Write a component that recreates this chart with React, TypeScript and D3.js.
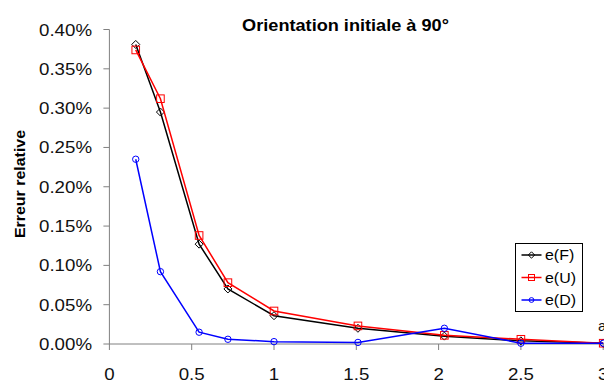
import React from "react";
import * as d3 from "d3";

const xValues = [0.16, 0.31, 0.545, 0.72, 1.0, 1.51, 2.035, 2.5, 3.0];
const eF = [0.00381, 0.00295, 0.00127, 0.0007, 0.00036, 0.0002, 0.0001, 0.00004, 0.00001];
const eU = [0.00374, 0.00312, 0.00138, 0.00078, 0.00042, 0.00023, 0.00011, 0.00006, 0.00001];
const eD = [0.00235, 0.00092, 0.00015, 0.00006, 0.00003, 0.00002, 0.0002, 0.00001, 0.00001];
const yTicks = [0, 0.0005, 0.001, 0.0015, 0.002, 0.0025, 0.003, 0.0035, 0.004];
const xTicks = [0, 0.5, 1, 1.5, 2, 2.5, 3];
const seriesNames = ["e(F)", "e(U)", "e(D)"];
const title = "Orientation initiale à 90°";
const yTitle = "Erreur relative";
const xTitle = "a";

const FONT = "'Liberation Sans', Arial, sans-serif";
const SX = 1.1;

type Marker = "diamond" | "square" | "circle";

function MarkerShape({ kind, cx, cy, color, s }: { kind: Marker; cx: number; cy: number; color: string; s: number }) {
  if (kind === "diamond") {
    const p = `M${cx},${cy - s} L${cx + s},${cy} L${cx},${cy + s} L${cx - s},${cy} Z`;
    return <path d={p} fill="none" stroke={color} strokeWidth={1} />;
  }
  if (kind === "square") {
    return <rect x={cx - s} y={cy - s} width={2 * s} height={2 * s} fill="none" stroke={color} strokeWidth={1} />;
  }
  return <circle cx={cx} cy={cy} r={s} fill="none" stroke={color} strokeWidth={1} />;
}

export default function App() {
  const W = 604;
  const H = 381;
  const x = d3.scaleLinear().domain([0, 3]).range([109.4, 603.2]);
  const y = d3.scaleLinear().domain([0, 0.004]).range([344, 29.5]);
  const fmt = d3.format(".2%");

  const series = [
    { name: seriesNames[0], values: eF, color: "#000000", marker: "diamond" as Marker, s: 4 },
    { name: seriesNames[1], values: eU, color: "#ff0000", marker: "square" as Marker, s: 3.8 },
    { name: seriesNames[2], values: eD, color: "#0000ff", marker: "circle" as Marker, s: 3.2 },
  ];

  const line = d3
    .line<[number, number]>()
    .x((d) => x(d[0]))
    .y((d) => y(d[1]));

  const axisColor = "#808080";
  const x0 = x(0);
  const y0 = y(0);

  return (
    <svg width={W} height={H} style={{ position: "absolute", left: 0, top: 0, background: "white" }}>
      <rect x={0} y={0} width={W} height={H} fill="white" />
      <text
        transform={`translate(345.5,30.5) scale(${SX},1)`}
        textAnchor="middle"
        fontFamily={FONT}
        fontWeight="bold"
        fontSize={16.5}
        fill="#000"
      >
        {title}
      </text>
      <text
        transform={`translate(25,184) rotate(-90) scale(${SX},1)`}
        textAnchor="middle"
        fontFamily={FONT}
        fontWeight="bold"
        fontSize={14.5}
        fill="#000"
      >
        {yTitle}
      </text>
      <line x1={x0} x2={x0} y1={y(0.004)} y2={y0} stroke={axisColor} strokeWidth={1} />
      {yTicks.map((t) => (
        <g key={"yt" + t}>
          <line x1={x0 - 6} x2={x0} y1={y(t)} y2={y(t)} stroke={axisColor} strokeWidth={1} />
          <text
            transform={`translate(92,${y(t) + 6}) scale(${SX},1)`}
            textAnchor="end"
            fontFamily={FONT}
            fontSize={17}
            fill="#111"
          >
            {fmt(t)}
          </text>
        </g>
      ))}
      <line x1={x0} x2={W} y1={y0} y2={y0} stroke={axisColor} strokeWidth={1} />
      {xTicks.map((t) => (
        <g key={"xt" + t}>
          <line x1={x(t)} x2={x(t)} y1={y0} y2={y0 + 6} stroke={axisColor} strokeWidth={1} />
          <text
            transform={`translate(${x(t)},379.5) scale(${SX},1)`}
            textAnchor="middle"
            fontFamily={FONT}
            fontSize={17}
            fill="#111"
          >
            {String(t)}
          </text>
        </g>
      ))}
      <text x={598} y={331} fontFamily={FONT} fontSize={15} fill="#111">
        {xTitle}
      </text>
      {series.map((s) => {
        const pts = xValues.map((xv, i) => [xv, s.values[i]] as [number, number]);
        return (
          <g key={s.name}>
            <path d={line(pts) || ""} fill="none" stroke={s.color} strokeWidth={1.5} />
            {pts.map((p, i) => (
              <MarkerShape key={i} kind={s.marker} cx={x(p[0])} cy={y(p[1])} color={s.color} s={s.s} />
            ))}
          </g>
        );
      })}
      <g>
        <rect x={515.5} y={243.5} width={67} height={68} fill="white" stroke="#000" strokeWidth={1} />
        {series.map((s, i) => {
          const cy = 255 + i * 22.5;
          return (
            <g key={"lg" + s.name}>
              <line x1={521.5} x2={541.5} y1={cy} y2={cy} stroke={s.color} strokeWidth={1.5} />
              <MarkerShape kind={s.marker} cx={531.5} cy={cy} color={s.color} s={s.s - 0.8} />
              <text
                transform={`translate(545,${cy + 5}) scale(${SX},1)`}
                fontFamily={FONT}
                fontSize={14.5}
                fill="#000"
              >
                {s.name}
              </text>
            </g>
          );
        })}
      </g>
    </svg>
  );
}
